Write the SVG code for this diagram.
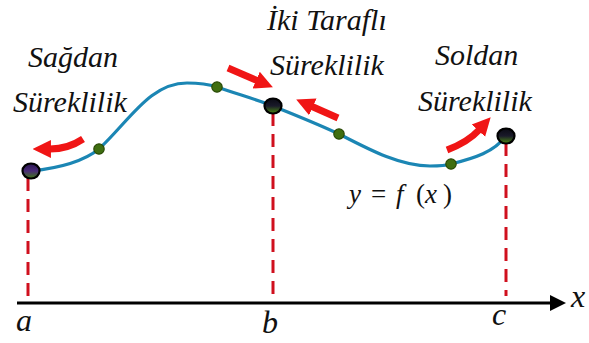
<svg xmlns="http://www.w3.org/2000/svg" width="589" height="343" viewBox="0 0 589 343">
<defs>
<marker id="rh" viewBox="0 0 10 10" refX="0.5" refY="5" markerWidth="2.6" markerHeight="3.2" orient="auto">
<path d="M0,0 L10,5 L0,10 z" fill="#f01515"/>
</marker>
<marker id="ax" viewBox="0 0 10 10" refX="0" refY="5" markerWidth="5.5" markerHeight="5" orient="auto">
<path d="M0,0 L10,5 L0,10 z" fill="#000"/>
</marker>
<linearGradient id="gp" x1="0" y1="0" x2="0" y2="1">
<stop offset="0" stop-color="#2a1650"/><stop offset="0.5" stop-color="#4a2a78"/><stop offset="1" stop-color="#3d7a10"/>
</linearGradient>
<linearGradient id="gk" x1="0" y1="0" x2="0" y2="1">
<stop offset="0" stop-color="#0a0a14"/><stop offset="0.5" stop-color="#1a1a2a"/><stop offset="1" stop-color="#4a8a10"/>
</linearGradient>
</defs>
<g id="labels" fill="#111" font-family="Liberation Serif" font-style="italic">
<text x="28" y="67" font-size="30">Sağdan</text>
<text x="13" y="112" font-size="30">Süreklilik</text>
<text x="267" y="30" font-size="30">İki Taraflı</text>
<text x="270" y="75" font-size="30">Süreklilik</text>
<text x="435" y="65" font-size="30">Soldan</text>
<text x="418" y="111" font-size="30">Süreklilik</text>
<text y="203" font-size="27"><tspan x="349">y</tspan><tspan x="371" font-style="normal">=</tspan><tspan x="396">f</tspan><tspan x="416" font-style="normal">(</tspan><tspan x="425">x</tspan><tspan x="443" font-style="normal">)</tspan></text>
<text x="16" y="331" font-size="32">a</text>
<text x="262" y="333" font-size="32">b</text>
<text x="492" y="325" font-size="32">c</text>
<text x="571" y="307" font-size="32">x</text>
</g>
<g id="connectors">
<g stroke="#d0101e" stroke-width="3" stroke-dasharray="13 8" fill="none">
<line x1="28" y1="178" x2="28" y2="303"/>
<line x1="273" y1="113" x2="273" y2="303"/>
<line x1="506" y1="143" x2="506" y2="296"/>
</g>
<line x1="17" y1="303" x2="550" y2="303" stroke="#000" stroke-width="3.2" marker-end="url(#ax)"/>
<path id="curve" d="M31,171 C60,168 84,161 99,149 C130,120 150,83 187,83 C199,83 208,84 217,87 C240,95 255,99 273,106 C295,115 318,124 339,134 C370,150 400,166 430,166 C438,166 445,166 451,164 C475,158 494,152 506,136" fill="none" stroke="#1b86b4" stroke-width="3.2"/>
<g stroke="#f01515" stroke-width="7" fill="none">
<path d="M83,139 Q68,149 50,149" marker-end="url(#rh)"/>
<path d="M228,68 L257,80.5" marker-end="url(#rh)"/>
<path d="M338,118 L312,106.5" marker-end="url(#rh)"/>
<path d="M447,150 Q468,142 479,130" marker-end="url(#rh)"/>
</g>
</g>
<g id="dots">
<g fill="#3f6e10" stroke="#2a4a06" stroke-width="1.2">
<circle cx="99" cy="149" r="5.2"/>
<circle cx="217" cy="87" r="5.2"/>
<circle cx="339" cy="134" r="5.2"/>
<circle cx="451" cy="164" r="5.2"/>
</g>
<g stroke="#000" stroke-width="2.2">
<ellipse id="node-a" cx="31" cy="171" rx="8.5" ry="7.5" fill="url(#gp)"/>
<ellipse id="node-b" cx="273" cy="106" rx="8.5" ry="7.5" fill="url(#gk)"/>
<ellipse id="node-c" cx="506" cy="136" rx="8.5" ry="7.5" fill="url(#gk)"/>
</g>
</g>
</svg>
